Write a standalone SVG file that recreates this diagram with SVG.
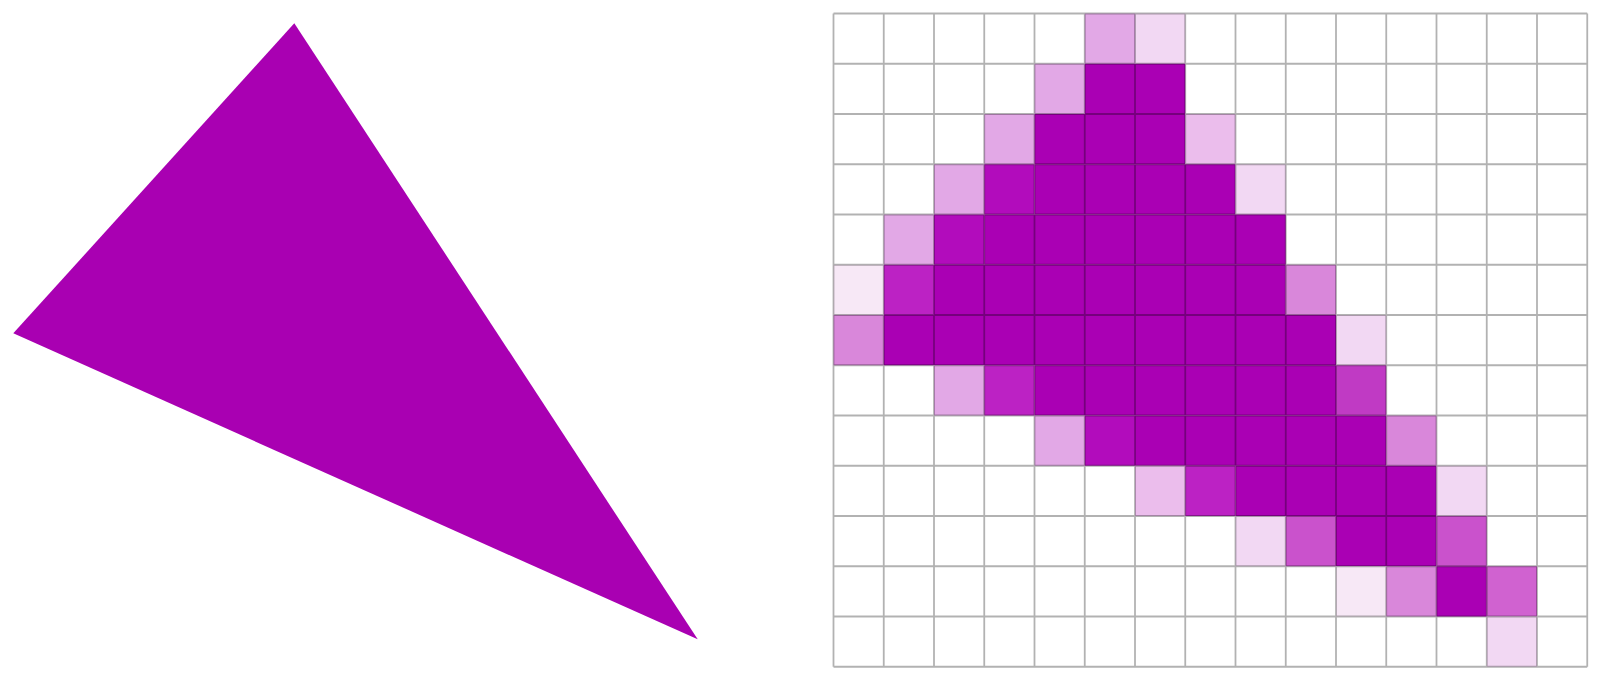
<svg xmlns="http://www.w3.org/2000/svg" width="1600" height="685" viewBox="0 0 1600 685">
<style>
.d{fill:#AA00B4}.dk{fill:#B20CBC}.md{fill:#BC22C4}.m2{fill:#CA52CC}.m{fill:#D987DA}.l2{fill:#EBBDEC}.l1{fill:#E2A8E6}.vl{fill:#F2D8F3}.vvl{fill:#F7E8F6}
.grid{fill:none;stroke:#000;stroke-opacity:0.3;stroke-width:1.8}
</style>
<rect width="1600" height="685" fill="#fff"/>
<g id="triangle">
<polygon points="294.3,23.3 13.3,333.3 697.7,639.3" fill="#A900B2"/>
</g>
<g id="pixel-grid" transform="translate(833.5,13.5) scale(50.25)">
<g id="cells">
<rect class="l1" x="5" y="0" width="1" height="1"/><rect class="vl" x="6" y="0" width="1" height="1"/>
<rect class="l1" x="4" y="1" width="1" height="1"/><rect class="d" x="5" y="1" width="2" height="1"/>
<rect class="l1" x="3" y="2" width="1" height="1"/><rect class="d" x="4" y="2" width="3" height="1"/><rect class="l2" x="7" y="2" width="1" height="1"/>
<rect class="l1" x="2" y="3" width="1" height="1"/><rect class="dk" x="3" y="3" width="1" height="1"/><rect class="d" x="4" y="3" width="4" height="1"/><rect class="vl" x="8" y="3" width="1" height="1"/>
<rect class="l1" x="1" y="4" width="1" height="1"/><rect class="dk" x="2" y="4" width="1" height="1"/><rect class="d" x="3" y="4" width="6" height="1"/>
<rect class="vvl" x="0" y="5" width="1" height="1"/><rect class="md" x="1" y="5" width="1" height="1"/><rect class="d" x="2" y="5" width="7" height="1"/><rect class="m" x="9" y="5" width="1" height="1"/>
<rect class="m" x="0" y="6" width="1" height="1"/><rect class="d" x="1" y="6" width="9" height="1"/><rect class="vl" x="10" y="6" width="1" height="1"/>
<rect class="l1" x="2" y="7" width="1" height="1"/><rect class="md" x="3" y="7" width="1" height="1"/><rect class="d" x="4" y="7" width="6" height="1"/><rect class="md" x="10" y="7" width="1" height="1" style="fill:#C03AC4"/>
<rect class="l1" x="4" y="8" width="1" height="1"/><rect class="dk" x="5" y="8" width="1" height="1"/><rect class="d" x="6" y="8" width="5" height="1"/><rect class="m" x="11" y="8" width="1" height="1"/>
<rect class="l2" x="6" y="9" width="1" height="1"/><rect class="md" x="7" y="9" width="1" height="1"/><rect class="d" x="8" y="9" width="4" height="1"/><rect class="vl" x="12" y="9" width="1" height="1"/>
<rect class="vl" x="8" y="10" width="1" height="1"/><rect class="m2" x="9" y="10" width="1" height="1"/><rect class="d" x="10" y="10" width="2" height="1"/><rect class="m2" x="12" y="10" width="1" height="1"/>
<rect class="vvl" x="10" y="11" width="1" height="1"/><rect class="m" x="11" y="11" width="1" height="1"/><rect class="d" x="12" y="11" width="1" height="1"/><rect class="m2" x="13" y="11" width="1" height="1" style="fill:#D062D0"/>
<rect class="vl" x="13" y="12" width="1" height="1"/>
</g>
<path class="grid" vector-effect="non-scaling-stroke" d="M0 0V13M1 0V13M2 0V13M3 0V13M4 0V13M5 0V13M6 0V13M7 0V13M8 0V13M9 0V13M10 0V13M11 0V13M12 0V13M13 0V13M14 0V13M15 0V13M0 0H15M0 1H15M0 2H15M0 3H15M0 4H15M0 5H15M0 6H15M0 7H15M0 8H15M0 9H15M0 10H15M0 11H15M0 12H15M0 13H15"/>
</g>
</svg>
